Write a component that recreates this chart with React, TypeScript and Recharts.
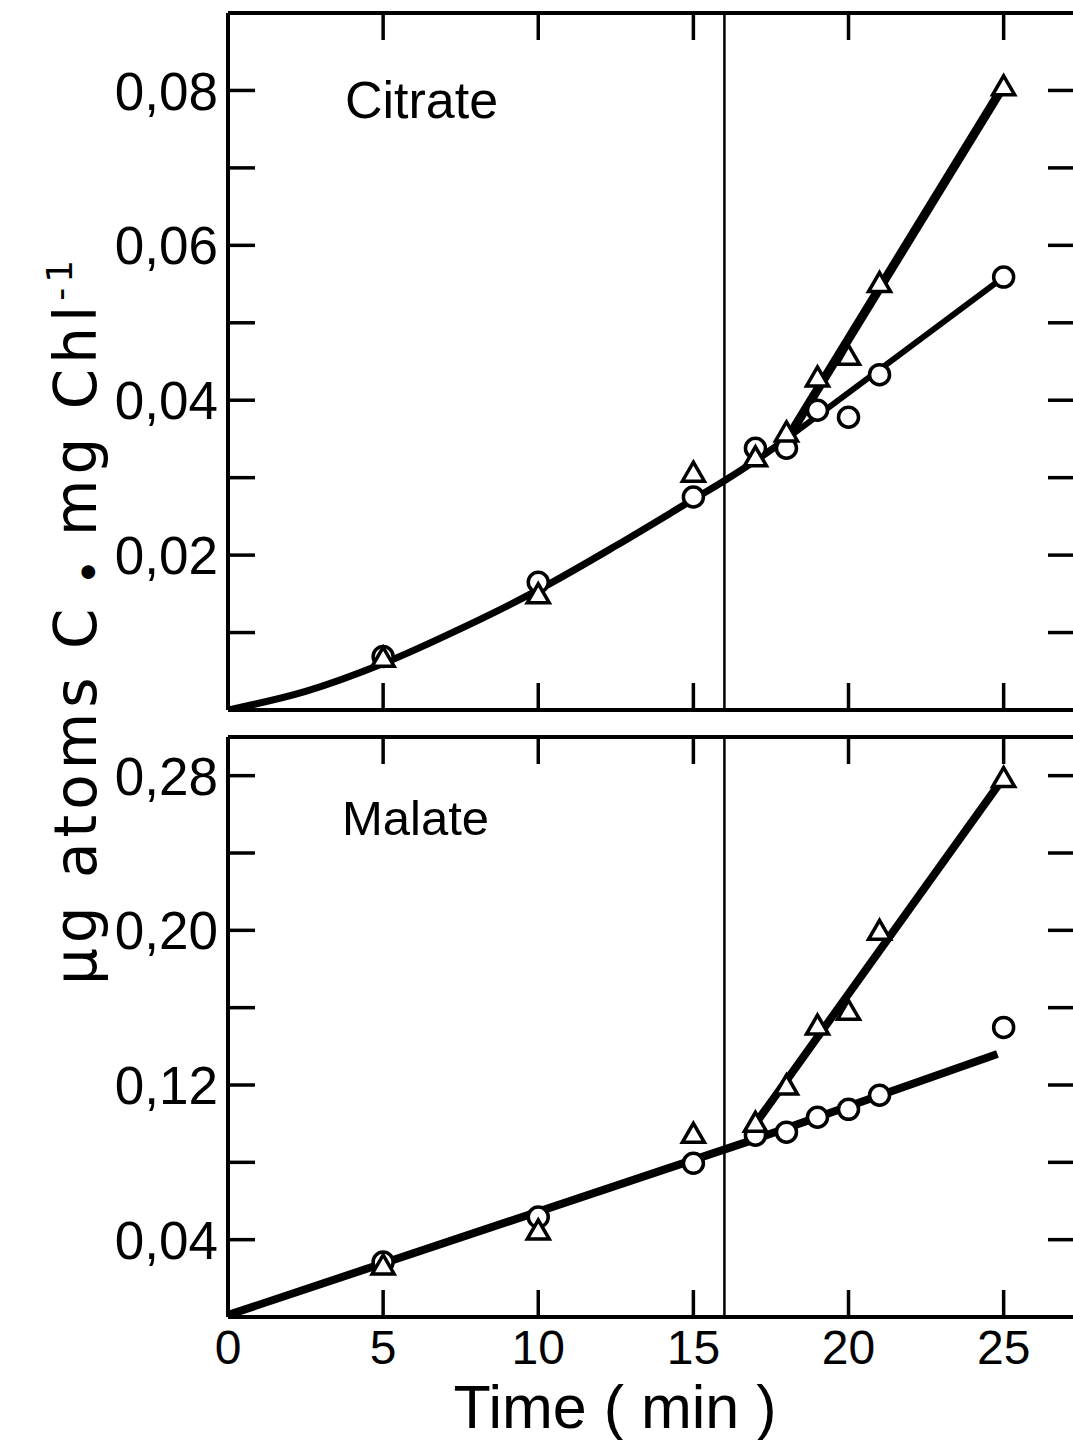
import { LineChart, Line, XAxis, YAxis, ReferenceLine } from 'recharts'

// sample times (min) for the measured points
const times = [5, 10, 15, 17, 18, 19, 20, 21, 25]

// Citrate panel
const citrateCircle = [0.0069, 0.0165, 0.0275, 0.0338, 0.0338, 0.0387, 0.0378, 0.0433, 0.0559]
const citrateTriangle = [0.0068, 0.015, 0.0307, 0.0327, 0.0359, 0.043, 0.0458, 0.0552, 0.0806]
const citrateFitT = [0, 2.5, 5, 7.5, 10, 12.5, 15, 16, 17, 18.1]
const citrateFitY = [0, 0.0024, 0.006, 0.0105, 0.0155, 0.0212, 0.0272, 0.0296, 0.0322, 0.0353]
const citrateCircleFitT = [18.1, 25]
const citrateCircleFitY = [0.0353, 0.0559]
const citrateTriFitT = [18.1, 25]
const citrateTriFitY = [0.0355, 0.0806]

// Malate panel
const malateCircle = [0.0284, 0.0517, 0.0795, 0.094, 0.0956, 0.1033, 0.1074, 0.1147, 0.1498]
const malateTriangle = [0.0269, 0.045, 0.095, 0.1007, 0.12, 0.151, 0.1586, 0.2, 0.279]
const malateFitT = [0, 17, 24.8]
const malateFitY = [0.001, 0.092, 0.136]
const malateTriFitT = [17, 25]
const malateTriFitY = [0.1, 0.279]

// axes
const timeTicks = [0, 5, 10, 15, 20, 25]
const citrateTicks = [0.01, 0.02, 0.03, 0.04, 0.05, 0.06, 0.07, 0.08]
const citrateLabels = [0.02, 0.04, 0.06, 0.08]
const malateTicks = [0.04, 0.08, 0.12, 0.16, 0.2, 0.24, 0.28]
const malateLabels = [0.04, 0.12, 0.2, 0.28]

const pts = (ts: number[], vs: number[]) => ts.map((t, i) => ({ t, v: vs[i] }))

const INK = '#000'
const FONT = '"Liberation Sans", Arial, sans-serif'
const TICK = 27
const FRAME = 4

const fmt = (v: number) => v.toFixed(2).replace('.', ',')
const has = (list: number[], v: number) => list.some(l => Math.abs(l - v) < 1e-9)

const leftTick = (labels: number[]) => (props: any) => {
  const { x, y, payload } = props
  return (
    <g>
      <line x1={x} x2={x + TICK} y1={y} y2={y} stroke={INK} strokeWidth={3.5} />
      {has(labels, payload.value) && (
        <text x={x - 10} y={y} dy="0.36em" textAnchor="end" fontSize={53} fontFamily={FONT} fill={INK}>
          {fmt(payload.value)}
        </text>
      )}
    </g>
  )
}

const rightTick = (props: any) => {
  const { x, y } = props
  return <line x1={x - TICK} x2={x} y1={y} y2={y} stroke={INK} strokeWidth={3.5} />
}

const topTick = (props: any) => {
  const { x, y, payload } = props
  if (payload.value === 0) return <g />
  return <line x1={x} x2={x} y1={y} y2={y + TICK} stroke={INK} strokeWidth={3.5} />
}

const bottomTick = (withLabel: boolean) => (props: any) => {
  const { x, y, payload } = props
  return (
    <g>
      {payload.value !== 0 && <line x1={x} x2={x} y1={y} y2={y - TICK} stroke={INK} strokeWidth={3.5} />}
      {withLabel && (
        <text x={x} y={y + 47} textAnchor="middle" fontSize={48} fontFamily={FONT} fill={INK}>
          {payload.value}
        </text>
      )}
    </g>
  )
}

const circleDot = (props: any) => {
  const { cx, cy, index } = props
  return <circle key={`c${index}`} cx={cx} cy={cy} r={10} fill="#fff" stroke={INK} strokeWidth={3.5} />
}

const triangleDot = (props: any) => {
  const { cx, cy, index } = props
  return (
    <path
      key={`t${index}`}
      d={`M${cx},${cy - 10} L${cx + 11},${cy + 9} L${cx - 11},${cy + 9} Z`}
      fill="#fff"
      stroke={INK}
      strokeWidth={3.5}
      strokeLinejoin="miter"
    />
  )
}

type PanelProps = {
  height: number
  margin: { top: number; right: number; bottom: number; left: number }
  yMax: number
  yTicks: number[]
  yLabels: number[]
  xLabels: boolean
  fits: { data: { t: number; v: number }[]; width: number; curve: 'monotone' | 'linear' }[]
  circles: number[]
  triangles: number[]
}

function Panel({ height, margin, yMax, yTicks, yLabels, xLabels, fits, circles, triangles }: PanelProps) {
  return (
    <LineChart width={1090} height={height} margin={margin}>
      <XAxis
        xAxisId="b"
        dataKey="t"
        type="number"
        domain={[0, 27.3]}
        ticks={timeTicks}
        interval={0}
        height={1}
        tickSize={0}
        tickMargin={0}
        tickLine={false}
        axisLine={{ stroke: INK, strokeWidth: FRAME }}
        tick={bottomTick(xLabels)}
        allowDataOverflow
      />
      <XAxis
        xAxisId="top"
        orientation="top"
        dataKey="t"
        type="number"
        domain={[0, 27.3]}
        ticks={timeTicks}
        interval={0}
        height={1}
        tickSize={0}
        tickMargin={0}
        tickLine={false}
        axisLine={{ stroke: INK, strokeWidth: FRAME }}
        tick={topTick}
        allowDataOverflow
      />
      <YAxis
        yAxisId="l"
        type="number"
        domain={[0, yMax]}
        ticks={yTicks}
        interval={0}
        width={228}
        tickSize={0}
        tickMargin={0}
        tickLine={false}
        axisLine={{ stroke: INK, strokeWidth: FRAME }}
        tick={leftTick(yLabels)}
        allowDataOverflow
      />
      <YAxis
        yAxisId="r"
        orientation="right"
        type="number"
        domain={[0, yMax]}
        ticks={yTicks}
        interval={0}
        width={1}
        tickSize={0}
        tickMargin={0}
        tickLine={false}
        axisLine={{ stroke: INK, strokeWidth: FRAME }}
        tick={rightTick}
        allowDataOverflow
      />
      <ReferenceLine xAxisId="b" yAxisId="l" x={16} stroke={INK} strokeWidth={2.5} />
      {fits.map((f, i) => (
        <Line
          key={`fit${i}`}
          xAxisId="b"
          yAxisId="l"
          data={f.data}
          dataKey="v"
          type={f.curve}
          stroke={INK}
          strokeWidth={f.width}
          dot={false}
          activeDot={false}
          isAnimationActive={false}
        />
      ))}
      <Line
        xAxisId="b"
        yAxisId="l"
        data={pts(times, circles)}
        dataKey="v"
        stroke="none"
        dot={circleDot}
        activeDot={false}
        isAnimationActive={false}
      />
      <Line
        xAxisId="b"
        yAxisId="l"
        data={pts(times, triangles)}
        dataKey="v"
        stroke="none"
        dot={triangleDot}
        activeDot={false}
        isAnimationActive={false}
      />
    </LineChart>
  )
}

export default function App() {
  return (
    <div
      style={{
        position: 'absolute',
        left: 0,
        top: 0,
        width: 1073,
        height: 1440,
        overflow: 'hidden',
        background: '#fff',
        fontFamily: FONT,
      }}
    >
      <div style={{ position: 'absolute', left: 0, top: 0 }}>
        <Panel
          height={725}
          margin={{ top: 12, right: 14, bottom: 14, left: 0 }}
          yMax={0.09}
          yTicks={citrateTicks}
          yLabels={citrateLabels}
          xLabels={false}
          fits={[
            { data: pts(citrateFitT, citrateFitY), width: 7, curve: 'monotone' },
            { data: pts(citrateCircleFitT, citrateCircleFitY), width: 6, curve: 'linear' },
            { data: pts(citrateTriFitT, citrateTriFitY), width: 9, curve: 'linear' },
          ]}
          circles={citrateCircle}
          triangles={citrateTriangle}
        />
      </div>
      <div style={{ position: 'absolute', left: 0, top: 725 }}>
        <Panel
          height={715}
          margin={{ top: 11, right: 14, bottom: 122, left: 0 }}
          yMax={0.3}
          yTicks={malateTicks}
          yLabels={malateLabels}
          xLabels={true}
          fits={[
            { data: pts(malateFitT, malateFitY), width: 8, curve: 'linear' },
            { data: pts(malateTriFitT, malateTriFitY), width: 8, curve: 'linear' },
          ]}
          circles={malateCircle}
          triangles={malateTriangle}
        />
      </div>
      <svg
        width={1073}
        height={1440}
        style={{ position: 'absolute', left: 0, top: 0, pointerEvents: 'none' }}
      >
        <text x={345} y={118} fontSize={52} fontFamily={FONT} fill={INK}>Citrate</text>
        <text x={342} y={835} fontSize={49} fontFamily={FONT} fill={INK}>Malate</text>
        <text x={615} y={1428} textAnchor="middle" fontSize={61} fontFamily={FONT} fill={INK}>
          Time ( min )
        </text>
        <text
          x={96}
          y={620}
          transform="rotate(-90, 96, 620)"
          textAnchor="middle"
          fontSize={58}
          letterSpacing={5}
          fontFamily='"DejaVu Sans", sans-serif'
          fill={INK}
        >
          μg atoms C <tspan fontSize={18} dy={-3}>●</tspan><tspan dy={3}> mg Chl</tspan>
          <tspan dy={-24} fontSize={36}>-1</tspan>
        </text>
      </svg>
    </div>
  )
}
